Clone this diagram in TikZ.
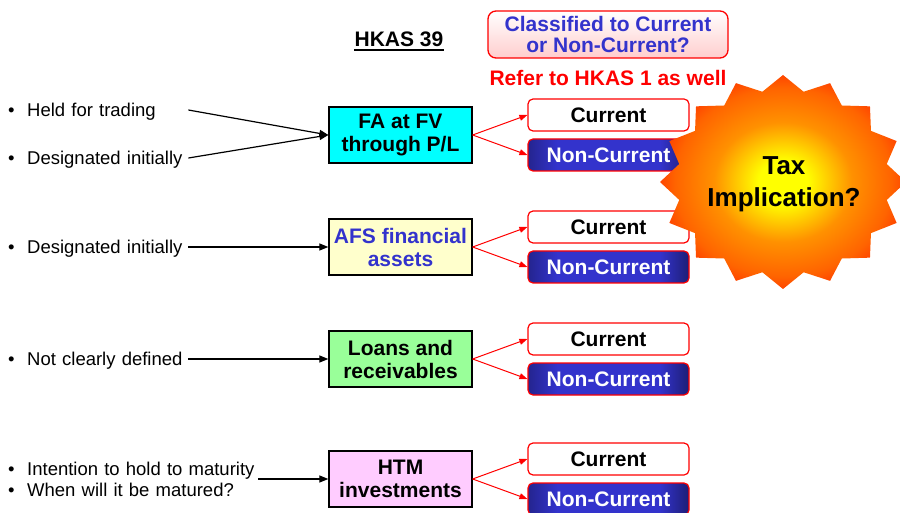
\documentclass[tikz,border=0pt]{standalone}
\usepackage{fontspec}
\setmainfont{Liberation Sans}
\usetikzlibrary{arrows.meta}
\definecolor{faaqua}{RGB}{0,255,255}
\definecolor{afsyellow}{RGB}{255,255,204}
\definecolor{loangreen}{RGB}{153,255,153}
\definecolor{htmpink}{RGB}{255,204,255}
\definecolor{qblue}{RGB}{51,51,204}
\definecolor{ncdark}{RGB}{26,26,102}
\definecolor{qpink}{RGB}{255,205,205}
\definecolor{burstyellow}{RGB}{255,255,0}
\definecolor{burstorange}{RGB}{255,145,0}
\definecolor{burstred}{RGB}{255,70,0}
\pgfdeclareradialshading{taxburst}{\pgfpoint{0bp}{0bp}}{color(0bp)=(burstyellow); color(5bp)=(burstyellow); color(14bp)=(burstorange); color(22bp)=(burstred!60!burstorange); color(25bp)=(burstred); color(50bp)=(burstred)}
\pgfdeclarehorizontalshading{ncshade}{100bp}{color(0bp)=(ncdark!60!qblue); color(25bp)=(ncdark!60!qblue); color(34bp)=(qblue); color(66bp)=(qblue); color(75bp)=(ncdark!85!qblue); color(100bp)=(ncdark!85!qblue)}

\begin{document}
\begin{tikzpicture}[x=1pt, y=-1pt,
    cat/.style={draw, line width=1.3pt, align=center, minimum width=143pt, minimum height=56pt, inner sep=0pt, font=\fontsize{21}{23}\selectfont\bfseries},
    cur/.style={draw=red, line width=1.2pt, rounded corners=5pt, fill=white, minimum width=161pt, minimum height=32pt, inner sep=0pt, font=\fontsize{21}{23}\selectfont\bfseries},
    noncur/.style={cur, shading=ncshade, text=white},
    qbox/.style={draw=red, line width=1.3pt, rounded corners=8pt, top color=white, bottom color=qpink, minimum width=240pt, minimum height=47pt, inner sep=0pt, align=center, text=qblue, font=\fontsize{21}{21}\selectfont\bfseries},
    item/.style={anchor=west, inner sep=0pt, text width=180pt, text height=13.2pt, text depth=0pt, align=left, font=\fontsize{18.5}{21}\selectfont},
    arr/.style={-{Triangle[length=9pt,width=7pt]}, line width=1.2pt},
    redarr/.style={-{Triangle[length=8pt,width=6pt]}, red, line width=1pt}
  ]
  \useasboundingbox (0,0) rectangle (900,513);
  \newcommand{\bul}{\makebox[19pt][l]{\textbullet}}

  % heading
  \node[inner sep=0pt, anchor=base, font=\fontsize{21}{23}\selectfont\bfseries] (hkas) at (399,47) {HKAS 39};
  \draw[line width=2.5pt] ([yshift=-2.8pt]hkas.base west) -- ([yshift=-2.8pt]hkas.base east);
  \node[qbox] (ask) at (608,34.5) {Classified to Current\\or Non-Current?};
  \node[text=red, font=\fontsize{21}{23}\selectfont\bfseries] (refer) at (608,78) {Refer to HKAS 1 as well};

  % categories
  \node[cat, fill=faaqua] (fa) at (400.5,135) {FA at FV\\through P/L};
  \node[cat, fill=afsyellow, text=qblue] (afs) at (400.5,247) {AFS financial\\assets};
  \node[cat, fill=loangreen] (loan) at (400.5,359) {Loans and\\receivables};
  \node[cat, fill=htmpink] (htm) at (400.5,479) {HTM\\investments};

  % current / non-current
  \node[cur] (cur1) at (608.5,115) {Current};
  \node[noncur] (ncur1) at (608.5,155) {Non-Current};
  \node[cur] (cur2) at (608.5,227) {Current};
  \node[noncur] (ncur2) at (608.5,267) {Non-Current};
  \node[cur] (cur3) at (608.5,339) {Current};
  \node[noncur] (ncur3) at (608.5,379) {Non-Current};
  \node[cur] (cur4) at (608.5,459) {Current};
  \node[noncur] (ncur4) at (608.5,499) {Non-Current};

  % criteria
  \node[item] (held) at (8,110) {\bul Held for trading};
  \node[item] (desig1) at (8,158) {\bul Designated initially};
  \node[item] (desig2) at (8,247) {\bul Designated initially};
  \node[item] (unclear) at (8,359) {\bul Not clearly defined};
  \node[item, text width=250pt, text height=, text depth=] (intent) at (8,479) {\bul Intention to hold to maturity\\\bul When will it be matured?};

  \draw[arr] (held.east) -- (fa.west);
  \draw[arr] (desig1.east) -- (fa.west);
  \draw[arr] (desig2.east) -- (afs.west);
  \draw[arr] (unclear.east) -- (loan.west);
  \draw[arr] (intent.east) -- (htm.west);

  \draw[redarr] (fa.east) -- (cur1.west);
  \draw[redarr] (fa.east) -- (ncur1.west);
  \draw[redarr] (afs.east) -- (cur2.west);
  \draw[redarr] (afs.east) -- (ncur2.west);
  \draw[redarr] (loan.east) -- (cur3.west);
  \draw[redarr] (loan.east) -- (ncur3.west);
  \draw[redarr] (htm.east) -- (cur4.west);
  \draw[redarr] (htm.east) -- (ncur4.west);

  % burst
  \shade[shading=taxburst] plot[samples at={0,...,31}] ({783+123*(1-0.14*mod(\x,2))*cos(\x*11.25)}, {182+107*(1-0.14*mod(\x,2))*sin(\x*11.25)}) -- cycle;
  \node[align=center, font=\fontsize{26}{32}\selectfont\bfseries] (tax) at (784,184) {Tax\\Implication?};
\end{tikzpicture}
\end{document}
